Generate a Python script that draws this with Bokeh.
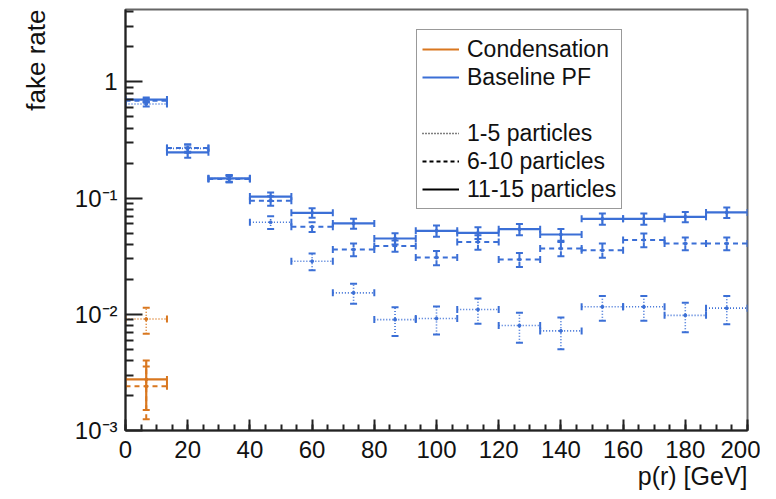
import math
from bokeh.plotting import figure
from bokeh.models import (ColumnDataSource, Range1d, FixedTicker, SingleIntervalTicker,
                          CustomJSTickFormatter, Title, Legend, LegendItem)
from bokeh.embed import file_html
from bokeh.resources import INLINE

# ---- data ----
bin_edges = [0, 13.333, 26.667, 40, 53.333, 66.667, 80, 93.333, 106.667,
             120, 133.333, 146.667, 160, 173.333, 186.667, 200]

pf_1_5 = [0.645, 0.268, 0.147, 0.062, 0.0286, 0.0153, 0.0090, 0.0092, 0.0110,
          0.0080, 0.0072, 0.0116, 0.0116, 0.0098, 0.0113]
pf_1_5_err = [0.030, 0.022, 0.010, 0.0078, 0.0047, 0.0030, 0.0025, 0.0025, 0.0027,
              0.0023, 0.0022, 0.0028, 0.0028, 0.0028, 0.0031]
pf_6_10 = [0.690, 0.270, 0.146, 0.095, 0.0566, 0.0361, 0.0388, 0.0308, 0.0420,
           0.0296, 0.0368, 0.0356, 0.0437, 0.0407, 0.0407]
pf_6_10_err = [0.025, 0.020, 0.009, 0.009, 0.0055, 0.0045, 0.0043, 0.0043, 0.0060,
               0.0041, 0.0052, 0.0050, 0.0060, 0.0051, 0.0051]
pf_11_15 = [0.705, 0.248, 0.148, 0.103, 0.0747, 0.0605, 0.0449, 0.0523, 0.0502,
            0.0540, 0.0486, 0.0663, 0.0663, 0.0690, 0.0753]
pf_11_15_err = [0.028, 0.025, 0.010, 0.0085, 0.0070, 0.0059, 0.0050, 0.0058, 0.0058,
                0.0060, 0.0056, 0.0073, 0.0073, 0.0069, 0.0078]

cond_1_5 = [0.0091]
cond_1_5_err = [0.0023]
cond_6_10 = [0.0024]
cond_6_10_err = [0.00115]
cond_11_15 = [0.00275]
cond_11_15_err = [0.00125]

BLUE = "#3b6fd6"
ORANGE = "#d9771f"
FONT = "Liberation Sans"
NAN = float("nan")

p = figure(width=760, height=496, output_backend="svg", toolbar_location=None,
           y_axis_type="log", x_range=Range1d(0, 200), y_range=Range1d(1e-3, 4.2),
           min_border_left=125, min_border_right=13, min_border_top=9, min_border_bottom=66)
p.grid.visible = False
p.outline_line_color = "#666666"
p.outline_line_width = 2
p.background_fill_color = "white"
p.border_fill_color = "white"


def draw(vals, errs, color, dash, width=2):
    n = len(vals)
    lo = bin_edges[:n]
    hi = bin_edges[1:n + 1]
    xc = [(a + b) / 2 for a, b in zip(lo, hi)]
    src = ColumnDataSource(dict(lo=lo, hi=hi, xc=xc, y=vals,
                                ylo=[v - e for v, e in zip(vals, errs)],
                                yhi=[v + e for v, e in zip(vals, errs)]))
    kw = dict(source=src, line_color=color, line_width=width, line_dash=dash)
    p.segment(x0="lo", y0="y", x1="hi", y1="y", **kw)
    p.segment(x0="xc", y0="ylo", x1="xc", y1="yhi", **kw)
    ck = dict(source=src, marker="dash", size=7, line_color=color, line_width=2)
    p.scatter(x="xc", y="ylo", **ck)
    p.scatter(x="xc", y="yhi", **ck)
    p.scatter(x="lo", y="y", angle=math.pi / 2, **ck)
    p.scatter(x="hi", y="y", angle=math.pi / 2, **ck)
    p.scatter(x="xc", y="y", marker="circle", size=3, source=src,
              fill_color=color, line_color=color)


draw(pf_1_5, pf_1_5_err, BLUE, "1 2", 1.6)
draw(pf_6_10, pf_6_10_err, BLUE, "5 4", 2)
draw(pf_11_15, pf_11_15_err, BLUE, "solid", 2.2)
draw(cond_1_5, cond_1_5_err, ORANGE, "1 2", 1.6)
draw(cond_6_10, cond_6_10_err, ORANGE, "5 4", 2)
draw(cond_11_15, cond_11_15_err, ORANGE, "solid", 2.2)

# ---- axes ----
p.xaxis.ticker = SingleIntervalTicker(interval=20, num_minor_ticks=4)
minor = [m * 10 ** k for k in range(-3, 1) for m in range(2, 10)]
p.yaxis.ticker = FixedTicker(ticks=[1e-3, 1e-2, 1e-1, 1], minor_ticks=minor)
p.yaxis.formatter = CustomJSTickFormatter(code="""
const e = Math.round(Math.log10(tick));
if (e === 0) return "1";
const sup = {"-": "\u207b", "0": "\u2070", "1": "\u00b9", "2": "\u00b2", "3": "\u00b3",
             "4": "\u2074", "5": "\u2075", "6": "\u2076", "7": "\u2077", "8": "\u2078", "9": "\u2079"};
return "10" + String(e).split("").map(c => sup[c]).join("");
""")
for ax in (p.xaxis[0], p.yaxis[0]):
    ax.axis_line_color = "#222222"
    ax.axis_line_width = 2
    ax.major_tick_line_color = "#222222"
    ax.minor_tick_line_color = "#222222"
    ax.major_tick_line_width = 2
    ax.minor_tick_line_width = 2
    ax.major_tick_out = 0
    ax.minor_tick_out = 0
    ax.major_label_text_font = FONT
    ax.major_label_text_font_size = "24px"
    ax.major_label_text_color = "#111111"
p.xaxis.major_tick_in = 11
p.xaxis.minor_tick_in = 6
p.yaxis.major_tick_in = 17
p.yaxis.minor_tick_in = 8
p.xaxis.major_label_standoff = 10
p.yaxis.major_label_standoff = 8

p.add_layout(Title(text="fake rate", align="right", vertical_align="top", text_font=FONT,
                   text_font_size="26px", text_font_style="normal", text_color="#111111",
                   standoff=37), "left")
p.add_layout(Title(text="p(r) [GeV]", align="right", text_font=FONT, text_font_size="25px",
                   text_font_style="normal", text_color="#111111", standoff=-2), "below")

# ---- legend (sample glyphs only; NaN data draws nothing in the plot) ----
r_c = p.line([NAN], [NAN], line_color=ORANGE, line_width=2)
r_b = p.line([NAN], [NAN], line_color=BLUE, line_width=2)
r_e = p.line([NAN], [NAN], line_alpha=0)
r_1 = p.line([NAN], [NAN], line_color="black", line_width=1.5, line_dash="1 2")
r_2 = p.line([NAN], [NAN], line_color="black", line_width=2, line_dash="4 3")
r_3 = p.line([NAN], [NAN], line_color="black", line_width=2)
legend = Legend(items=[LegendItem(label="Condensation", renderers=[r_c]),
                       LegendItem(label="Baseline PF", renderers=[r_b]),
                       LegendItem(label=" ", renderers=[r_e]),
                       LegendItem(label="1-5 particles", renderers=[r_1]),
                       LegendItem(label="6-10 particles", renderers=[r_2]),
                       LegendItem(label="11-15 particles", renderers=[r_3])],
                location=(291, 221))
legend.label_text_font = FONT
legend.label_text_font_size = "23px"
legend.label_text_color = "#111111"
legend.glyph_width = 37
legend.glyph_height = 28
legend.label_height = 28
legend.label_standoff = 8
legend.spacing = 0
legend.padding = 5
legend.margin = 0
legend.border_line_color = "#333333"
legend.border_line_width = 1.5
legend.background_fill_alpha = 1
p.add_layout(legend, "center")

open("out.html", "w").write(file_html(p, INLINE))
